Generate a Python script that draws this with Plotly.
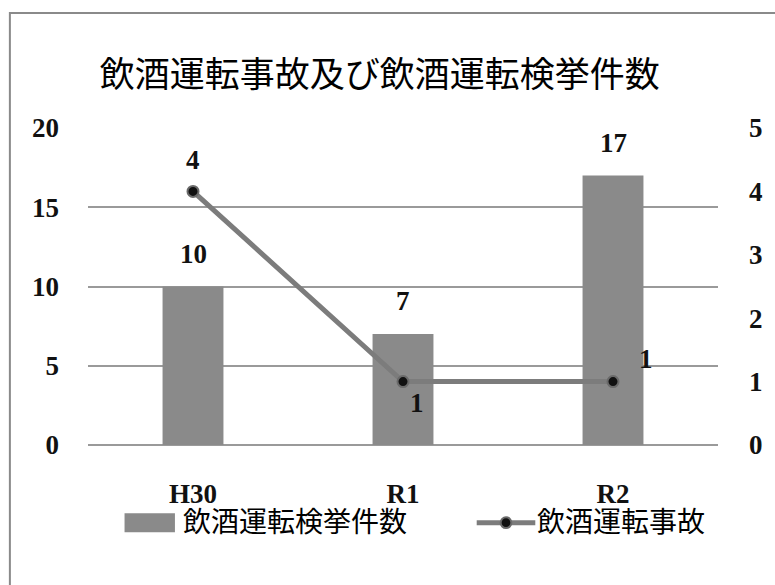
import plotly.graph_objects as go

# Fiscal years and counts
years = ["H30", "R1", "R2"]
arrests = [10, 7, 17]      # 飲酒運転検挙件数 (left axis)
accidents = [4, 1, 1]      # 飲酒運転事故 (right axis)

title_text = "飲酒運転事故及び飲酒運転検挙件数"
bar_name = "飲酒運転検挙件数"
line_name = "飲酒運転事故"
left_ticks = [0, 5, 10, 15, 20]
right_ticks = [0, 1, 2, 3, 4, 5]

SERIF = "Liberation Serif, Noto Sans CJK JP, serif"
BAR_COLOR = "#8a8a8a"
LINE_COLOR = "#7c7c7c"
GRID = "#9a9a9a"
NUM_FONT = dict(family=SERIF, size=27, color="#111", weight="bold")

fig = go.Figure()

fig.add_trace(go.Bar(
    x=years, y=arrests, name=bar_name,
    marker=dict(color=BAR_COLOR, line=dict(width=0)),
    showlegend=False, yaxis="y",
))

fig.add_trace(go.Scatter(
    x=years, y=accidents, name=line_name, mode="lines+markers",
    line=dict(color=LINE_COLOR, width=5),
    marker=dict(color="#111111", size=11, line=dict(color="#6a6a6a", width=2)),
    showlegend=False, yaxis="y2",
))

annotations = []
# value labels above the bars
for x, v in zip(years, arrests):
    annotations.append(dict(
        x=x, y=v, xref="x", yref="y", text=str(v), showarrow=False,
        yshift=33, font=NUM_FONT))

# value labels around the line points
offsets = [(0, 31), (14, -21), (33, 23)]
for (x, v), (dx, dy) in zip(zip(years, accidents), offsets):
    annotations.append(dict(
        x=x, y=v, xref="x", yref="y2", text=str(v), showarrow=False,
        xshift=dx, yshift=dy, font=NUM_FONT))

# legend drawn below the plot
annotations.append(dict(
    x=0.148, y=-0.245, xref="paper", yref="paper", xanchor="left", yanchor="middle",
    text=bar_name, showarrow=False, font=dict(family=SERIF, size=28, color="#000")))
annotations.append(dict(
    x=0.71, y=-0.245, xref="paper", yref="paper", xanchor="left", yanchor="middle",
    text=line_name, showarrow=False, font=dict(family=SERIF, size=28, color="#000")))

shapes = [
    # outer frame
    dict(type="rect", xref="paper", yref="paper", x0=-0.124, x1=1.5, y0=-0.6, y1=1.363,
         line=dict(color="#8a8a8a", width=2), fillcolor="rgba(0,0,0,0)", layer="below"),
    # legend keys
    dict(type="rect", xref="paper", yref="paper", x0=0.058, x1=0.138, y0=-0.275, y1=-0.215,
         line=dict(width=0), fillcolor=BAR_COLOR),
    dict(type="line", xref="paper", yref="paper", x0=0.617, x1=0.71, y0=-0.245, y1=-0.245,
         line=dict(color=LINE_COLOR, width=5)),
    dict(type="circle", xref="paper", yref="paper", x0=0.655, x1=0.672, y0=-0.262, y1=-0.228,
         line=dict(color="#6a6a6a", width=2), fillcolor="#111111"),
]

fig.update_layout(
    width=775, height=585,
    margin=dict(l=88, r=51, t=128, b=140),
    paper_bgcolor="white", plot_bgcolor="white",
    title=dict(text=title_text, x=0.49, xanchor="center", y=0.872, yanchor="middle",
               font=dict(family=SERIF, size=35, color="#000")),
    bargap=0.71,
    xaxis=dict(showgrid=False, showline=False, ticks="", ticklabelstandoff=30,
               tickfont=NUM_FONT),
    yaxis=dict(range=[0, 20], tickvals=left_ticks, showgrid=True, gridcolor=GRID, gridwidth=1.5,
               zeroline=True, zerolinecolor=GRID, zerolinewidth=1.5, showline=False,
               ticks="", ticklabelstandoff=28, tickfont=NUM_FONT),
    yaxis2=dict(range=[0, 5], tickvals=right_ticks, overlaying="y", side="right",
                showgrid=False, zeroline=False, showline=False, ticks="",
                ticklabelstandoff=30, tickfont=NUM_FONT),
    annotations=annotations,
    shapes=shapes,
)

fig.write_html("out.html")
